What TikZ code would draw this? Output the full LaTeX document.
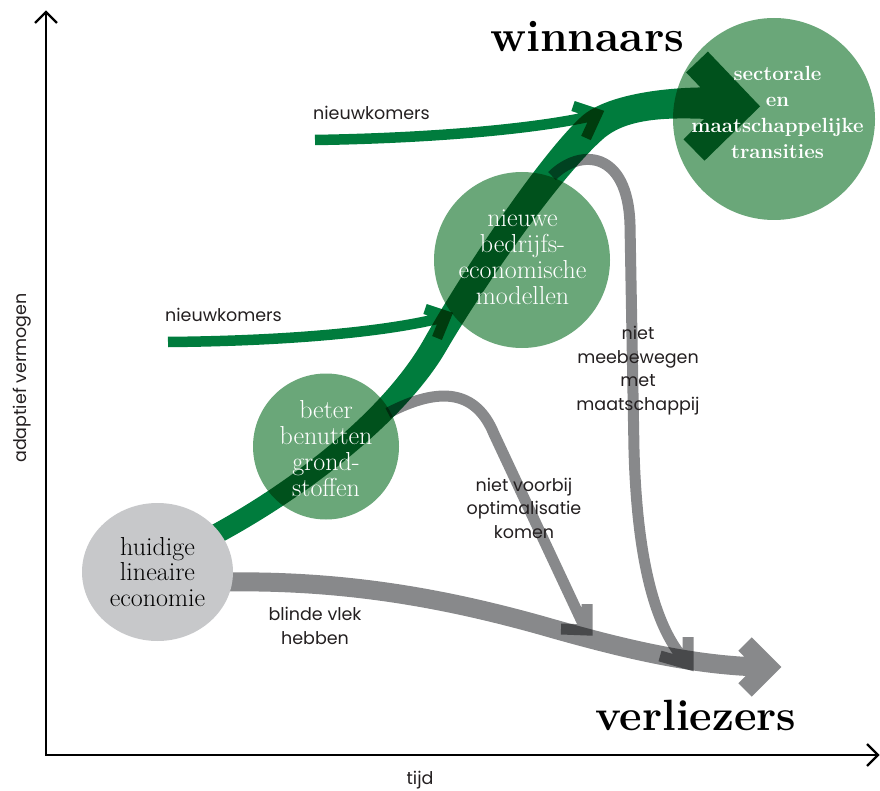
\documentclass[tikz,border=0pt]{standalone}
\usepackage{fontspec}
\newfontfamily\sansf{Poppins}
\usetikzlibrary{shapes.geometric}
\definecolor{arrowgreen}{RGB}{0,124,61}
\definecolor{circgreen}{RGB}{106,167,121}
\definecolor{arrowgray}{RGB}{136,137,139}
\definecolor{ellgray}{RGB}{199,200,202}
\definecolor{labelblack}{RGB}{35,31,32}
\begin{document}
\begin{tikzpicture}[x=1pt,y=-1pt,
  blob/.style={circle,fill=circgreen,inner sep=0pt,outer sep=0pt},
  blobtext/.style={text=white,align=center,inner sep=0pt,font=\fontsize{26}{26}\selectfont},
  sidelabel/.style={text=labelblack,align=center,inner sep=0pt,font=\sansf\fontsize{17.5}{23.5}\selectfont},
  smallgreen/.style={draw=arrowgreen,line width=10.5pt,miter limit=20},
  grayflow/.style={draw=arrowgray,miter limit=20},
  axisline/.style={draw=black,line width=2.2pt},
  bigword/.style={font=\bfseries\fontsize{44.4}{44}\selectfont,inner sep=0pt,anchor=base west}]

\useasboundingbox (0,0) rectangle (880,791);

% axes
\coordinate (O) at (46,755);
\coordinate (Ytop) at (46,12);
\coordinate (Xend) at (878,755);
\draw[axisline] (Ytop) -- (O) -- (Xend);
\draw[axisline] (35,23) -- (Ytop) -- (57,23);
\draw[axisline] (867,744) -- (Xend) -- (867,766);

\begin{scope}[blend mode=multiply]
  % circles
  \node[blob, minimum size=146pt] (bbg) at (326,446.5) {};
  \node[blob, minimum size=176pt] (nbm) at (522,260) {};
  \node[blob, minimum size=202pt] (smt) at (774,119) {};

  % main green arrow (tapered shaft + head as one fill)
  \fill[arrowgreen]
    (202.1,530.2) .. controls (295.1,480.7) and (384.6,409.1) .. (424.2,338.8)
    .. controls (459.7,275.6) and (537.9,156.9) .. (581.6,116.5)
    .. controls (607.6,93) and (676,85) .. (729,88)
    -- (727,120)
    .. controls (674,117) and (628.4,116) .. (602.4,139.5)
    .. controls (558.1,179.1) and (482.3,288.5) .. (445.9,351.2)
    .. controls (405.4,421) and (304.9,499.3) .. (211.4,547.9) -- cycle
    (760.1,106.4) -- (704.5,160.7) -- (683.5,139.3) -- (717.9,105.6)
    -- (686.1,72.4) -- (707.9,51.6) -- cycle;

  % nieuwkomers arrows
  \coordinate (n1s) at (315,140);
  \coordinate (n1e) at (592,116);
  \draw[smallgreen] (n1s) .. controls (440,138) and (540,128) .. (n1e)
    (573,106) -- (597,114) -- (586,138);
  \coordinate (n2s) at (168,342);
  \coordinate (n2e) at (441,318);
  \draw[smallgreen] (n2s) .. controls (280,341) and (380,333) .. (n2e)
    (425,309) -- (446,316) -- (437,338);

  % gray arrows
  \coordinate (g1s) at (225,582);
  \coordinate (g1e) at (760,667);
  \draw[grayflow, line width=19pt] (g1s) .. controls (350,580) and (450,600) .. (540,625)
    .. controls (620,648) and (690,665) .. (g1e)
    (745,644) -- (768,667) -- (745,690);
  \coordinate (g2s) at (388,413);
  \coordinate (g2e) at (584,626);
  \draw[grayflow, line width=11pt] (g2s) .. controls (440,386) and (476,390) .. (494,434) -- (g2e)
    (587,604) -- (587,630) -- (561,629);
  \coordinate (g3s) at (552,176);
  \coordinate (g3e) at (683,658);
  \draw[grayflow, line width=11pt] (g3s) .. controls (580,148) and (628,150) .. (630,225)
    -- (634,450) .. controls (637,560) and (655,625) .. (g3e)
    (688,637) -- (688,664) -- (660,656);
\end{scope}

% grey starting ellipse
\node[ellipse, fill=ellgray, minimum width=151pt, minimum height=138pt, inner sep=0pt,
      align=center, font=\fontsize{26}{25.5}\selectfont] (hle) at (157.5,572)
      {huidige\\lineaire\\economie};

% circle texts
\node[blobtext] (bbg-t) at (326,449) {beter\\benutten\\grond-\\stoffen};
\node[blobtext] (nbm-t) at (522.5,257) {nieuwe\\bedrijfs-\\economische\\modellen};
\node[blobtext, font=\bfseries\fontsize{20.5}{26}\selectfont] (smt-t) at (777.5,112)
  {sectorale\\en\\maatschappelijke\\transities};

% labels
\node[sidelabel, anchor=base west] (nk1) at (313,119.5) {nieuwkomers};
\node[sidelabel, anchor=base west] (nk2) at (165,321.5) {nieuwkomers};
\node[sidelabel] (nvo) at (524,508) {niet voorbij\\optimalisatie\\komen};
\node[sidelabel] (nmm) at (638,370.5) {niet\\meebewegen\\met\\maatschappij};
\node[sidelabel] (bvh) at (315,626) {blinde vlek\\hebben};
\node[sidelabel] (tijd) at (420,780) {tijd};
\node[sidelabel, rotate=90] (adv) at (22,378) {adaptief vermogen};

% titles
\node[bigword] (win) at (490,52) {winnaars};
\node[bigword, font=\bfseries\fontsize{43.8}{44}\selectfont] (ver) at (595,730) {verliezers};
\end{tikzpicture}
\end{document}
